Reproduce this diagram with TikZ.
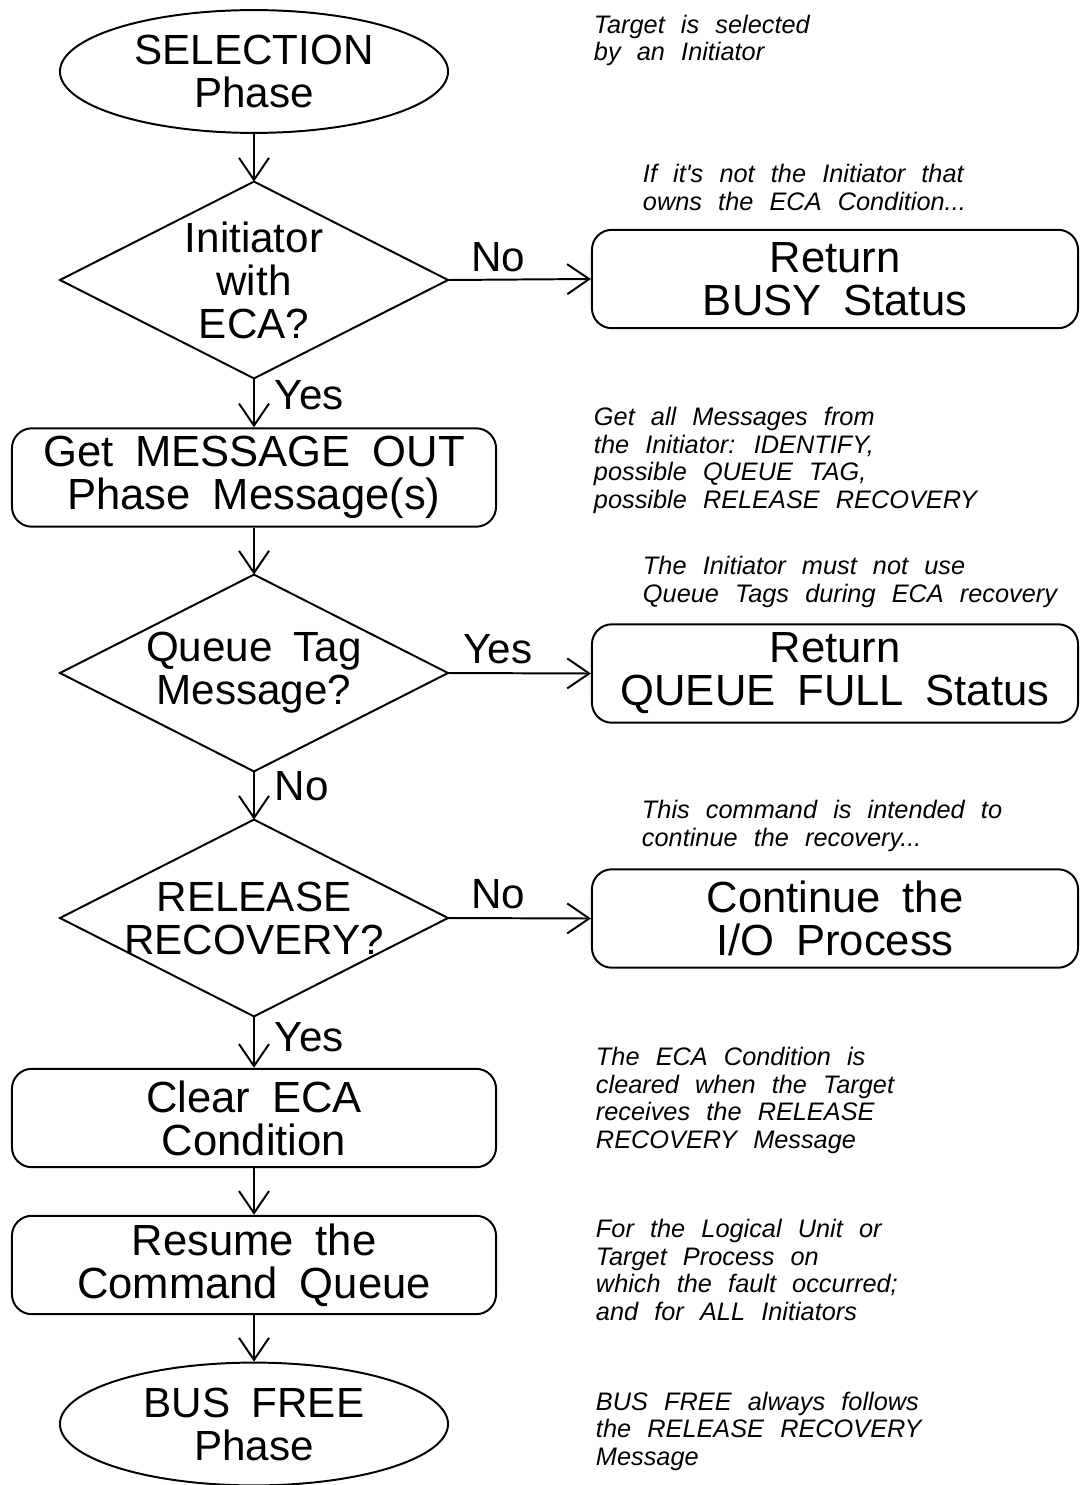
\documentclass[tikz,border=0pt]{standalone}
\usepackage{fontspec}
\setmainfont[WordSpace=1.8]{Liberation Sans}
\newfontfamily\notefont[WordSpace=2.3]{Liberation Sans}
\usetikzlibrary{shapes.geometric,arrows.meta}

\begin{document}
\begin{tikzpicture}[x=0.025cm,y=-0.025cm,
  line width=1.4pt,
  flow/.style={-{Straight Barb[length=0.55cm,width=0.75cm]}},
  term/.style={ellipse,draw,minimum width=9.7cm,minimum height=3.07cm,inner sep=0pt,
    align=center,font=\fontsize{30}{30.6}\selectfont},
  proc/.style={rectangle,rounded corners=0.5cm,draw,minimum height=2.46cm,inner sep=0pt,
    align=center,font=\fontsize{31}{30.6}\selectfont},
  leftproc/.style={proc,minimum width=12.1cm},
  rightproc/.style={proc,minimum width=12.15cm},
  decbox/.style={rectangle,minimum width=9.65cm,minimum height=4.87cm,inner sep=0pt,
    align=center,font=\fontsize{30}{30.6}\selectfont},
  lbl/.style={font=\fontsize{30}{30}\selectfont},
  note/.style={anchor=base west,align=left,inner sep=0pt,
    font=\notefont\itshape\fontsize{18}{19.5}\selectfont},
]
\useasboundingbox (0,0) rectangle (1090,1485);

% left column: main flow
\node[term] (sel) at (254,71.5) {SELECTION\\Phase};
\node[decbox] (d1) at (254,280) {Initiator\\with\\ECA?};
\node[leftproc] (msg) at (254,477.5) {Get MESSAGE OUT\\Phase Message(s)};
\node[decbox] (d2) at (254,673) {Queue Tag\\Message?};
\node[decbox] (d3) at (254,918) {RELEASE\\RECOVERY?};
\node[leftproc] (clr) at (254,1118) {Clear ECA\\Condition};
\node[leftproc] (res) at (254,1265) {Resume the\\Command Queue};
\node[term] (bus) at (254,1424) {BUS FREE\\Phase};

% decision outlines
\foreach \d in {d1,d2,d3}
  \draw (\d.north) -- (\d.east) -- (\d.south) -- (\d.west) -- cycle;

% right column: side exits
\node[rightproc] (busy) at (835,279) {Return\\BUSY Status};
\node[rightproc] (qfull) at (835,673.5) {Return\\QUEUE FULL Status};
\node[rightproc] (cont) at (835,918.5) {Continue the\\I/O Process};

% connectors
\draw[flow] (sel.south) -- (d1.north);
\draw[flow] (d1.east) -- node[lbl,pos=.35,above,inner sep=0.18cm]{No} (busy.west);
\draw[flow] (d1.south) -- node[lbl,pos=.35,right,inner sep=0.5cm]{Yes} (msg.north);
\draw[flow] (msg.south) -- (d2.north);
\draw[flow] (d2.east) -- node[lbl,pos=.35,above,inner sep=0.2cm]{Yes} (qfull.west);
\draw[flow] (d2.south) -- node[lbl,pos=.3,right,inner sep=0.5cm]{No} (d3.north);
\draw[flow] (d3.east) -- node[lbl,pos=.35,above,inner sep=0.2cm]{No} (cont.west);
\draw[flow] (d3.south) -- node[lbl,pos=.4,right,inner sep=0.5cm]{Yes} (clr.north);
\draw[flow] (clr.south) -- (res.north);
\draw[flow] (res.south) -- (bus.north);

% annotations (placed by the baseline of their last line)
\node[note] (n1) at (593,61) {Target is selected\\by an Initiator};
\node[note] (n2) at (642,210) {If it's not the Initiator that\\owns the ECA Condition...};
\node[note] (n3) at (593,508) {Get all Messages from\\the Initiator: IDENTIFY,\\possible QUEUE TAG,\\possible RELEASE RECOVERY};
\node[note] (n4) at (642,602) {The Initiator must not use\\Queue Tags during ECA recovery};
\node[note] (n5) at (641,846) {This command is intended to\\continue the recovery...};
\node[note] (n6) at (595,1148) {The ECA Condition is\\cleared when the Target\\receives the RELEASE\\RECOVERY Message};
\node[note] (n7) at (595,1320) {For the Logical Unit or\\Target Process on\\which the fault occurred;\\and for ALL Initiators};
\node[note] (n8) at (595,1465) {BUS FREE always follows\\the RELEASE RECOVERY\\Message};
\end{tikzpicture}
\end{document}
